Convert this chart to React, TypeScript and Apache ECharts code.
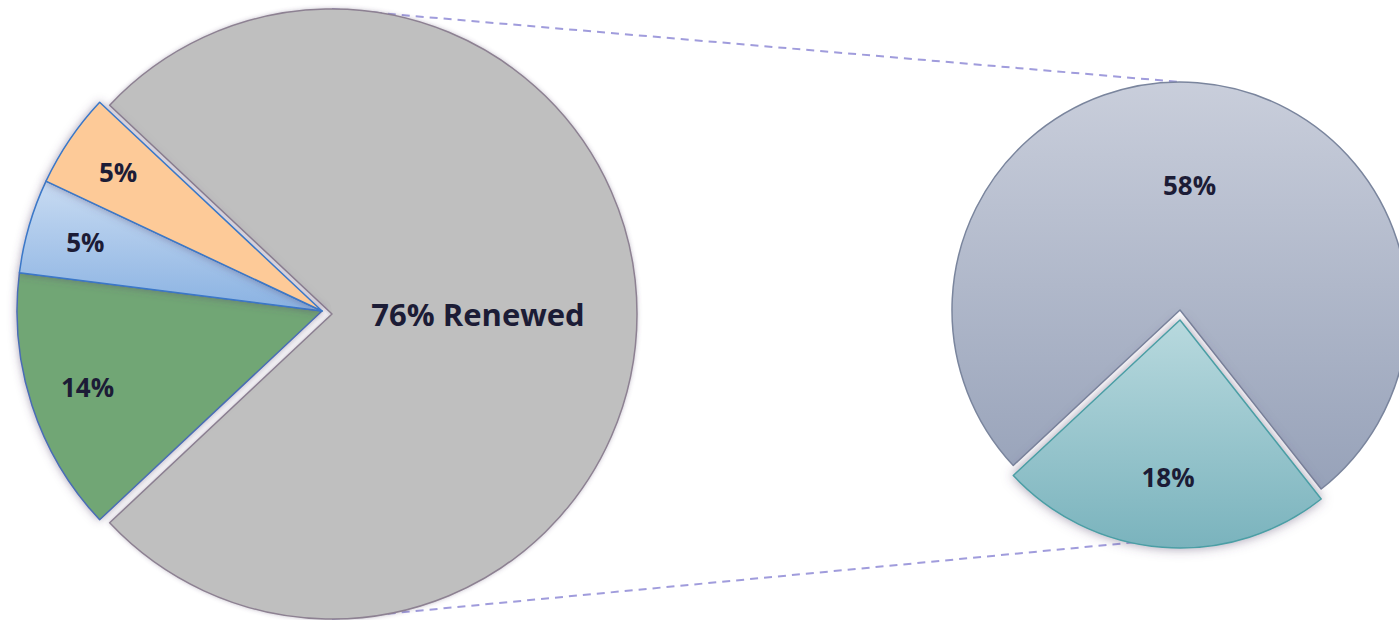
import React, { useEffect, useRef } from "react";
import * as echarts from "echarts";

// ---- data ----
const leftNames = ["Renewed", "Not renewed A", "Not renewed B", "Not renewed C"];
const leftValues = [76, 14, 5, 5];
const rightNames = ["Renewed A", "Renewed B"];
const rightValues = [58, 18];

const FONT = "'Open Sans', 'Noto Sans', sans-serif";
const LABEL_COLOR = "#1c1c36";

const vGrad = (top: string, bottom: string) =>
  new echarts.graphic.LinearGradient(0, 0, 0, 1, [
    { offset: 0, color: top },
    { offset: 1, color: bottom },
  ]);

const HIDDEN = { color: "rgba(0,0,0,0)", borderWidth: 0, shadowBlur: 0 };

export default function App() {
  const ref = useRef<HTMLDivElement>(null);

  useEffect(() => {
    document.body.style.margin = "0";
    if (!ref.current) return;
    const chart = echarts.init(ref.current, undefined, { renderer: "svg" });

    const smallSum = leftValues.slice(1).reduce((a, b) => a + b, 0);
    const leftStart = 180 - (smallSum / 100) * 360 / 2; // small slices centred on the left
    const rightStart = 223;

    const leftCenterBig = [332, 314];
    const leftCenterSmall = [322, 311];
    const leftR = 305;
    const rightCenterBig = [1180, 310];
    const rightCenterSmall = [1180, 320];
    const rightR = 228;

    const smallStyles = [
      { color: "#71a674", borderColor: "#4a6db5", borderWidth: 1.5 },
      { color: vGrad("#c8dbf2", "#8ab2e2"), borderColor: "#3a78c8", borderWidth: 1.5 },
      { color: "#fdca98", borderColor: "#3a78c8", borderWidth: 1.5 },
    ];

    const base = {
      type: "pie",
      clockwise: true,
      avoidLabelOverlap: false,
      labelLine: { show: false },
      emphasis: { disabled: true },
      silent: true,
    };

    const noLabel = { show: false };
    const pctLabel = {
      show: true,
      position: "inside",
      fontFamily: FONT,
      fontWeight: "bold",
      fontSize: 26,
      color: LABEL_COLOR,
      formatter: "{c}%",
    };

    const option: any = {
      animation: false,
      backgroundColor: "#ffffff",
      graphic: [
        {
          type: "line",
          z: 0,
          shape: { x1: leftCenterBig[0], y1: leftCenterBig[1] - leftR, x2: rightCenterBig[0], y2: rightCenterBig[1] - rightR },
          style: { stroke: "#a09cdc", lineWidth: 2, lineDash: [8, 6] },
        },
        {
          type: "line",
          z: 0,
          shape: { x1: leftCenterBig[0], y1: leftCenterBig[1] + leftR, x2: rightCenterBig[0], y2: rightCenterBig[1] + rightR },
          style: { stroke: "#a09cdc", lineWidth: 2, lineDash: [8, 6] },
        },
      ],
      series: [
        // left: big grey slice
        {
          ...base,
          z: 3,
          center: leftCenterBig,
          radius: leftR,
          startAngle: leftStart,
          label: noLabel,
          data: [
            {
              name: leftNames[0],
              value: leftValues[0],
              itemStyle: {
                color: "#bfbfbf",
                borderColor: "#8d8192",
                borderWidth: 1.5,
                shadowBlur: 4,
                shadowColor: "rgba(90,70,110,0.35)",
              },
            },
            { name: "rest", value: smallSum, itemStyle: HIDDEN },
          ],
        },
        // left: small exploded slices
        {
          ...base,
          z: 4,
          center: leftCenterSmall,
          radius: leftR,
          startAngle: leftStart,
          label: noLabel,
          data: [
            { name: "gap", value: leftValues[0], itemStyle: HIDDEN },
            ...leftValues.slice(1).map((v, i) => ({
              name: leftNames[i + 1],
              value: v,
              itemStyle: { ...smallStyles[i], shadowBlur: 9, shadowColor: "rgba(90,70,110,0.5)" },
            })),
          ],
        },
        // left labels: grey
        {
          ...base,
          z: 6,
          center: leftCenterBig,
          radius: [0, 286],
          startAngle: leftStart,
          itemStyle: HIDDEN,
          label: {
            show: true,
            position: "inside",
            fontFamily: FONT,
            fontWeight: "bold",
            fontSize: 31,
            color: LABEL_COLOR,
            formatter: (p: any) => (p.dataIndex === 0 ? `${p.value}% ${p.name}` : ""),
          },
          data: [
            { name: leftNames[0], value: leftValues[0] },
            { name: "rest", value: smallSum, label: { show: false } },
          ],
        },
        // left labels: small slices
        {
          ...base,
          z: 6,
          center: leftCenterSmall,
          radius: [182, leftR],
          startAngle: leftStart,
          itemStyle: HIDDEN,
          label: pctLabel,
          data: [
            { name: "gap", value: leftValues[0], label: { show: false } },
            ...leftValues.slice(1).map((v, i) => ({ name: leftNames[i + 1], value: v })),
          ],
        },
        // right: big slice
        {
          ...base,
          z: 3,
          center: rightCenterBig,
          radius: rightR,
          startAngle: rightStart,
          label: noLabel,
          data: [
            {
              name: rightNames[0],
              value: rightValues[0],
              itemStyle: {
                color: vGrad("#c9cedb", "#97a2b9"),
                borderColor: "#7a859d",
                borderWidth: 1.5,
              },
            },
            { name: "rest", value: rightValues[1], itemStyle: HIDDEN },
          ],
        },
        // right: exploded slice
        {
          ...base,
          z: 4,
          center: rightCenterSmall,
          radius: rightR,
          startAngle: rightStart,
          label: noLabel,
          data: [
            { name: "gap", value: rightValues[0], itemStyle: HIDDEN },
            {
              name: rightNames[1],
              value: rightValues[1],
              itemStyle: {
                color: vGrad("#b8d9de", "#7ab3bd"),
                borderColor: "#4b9ea5",
                borderWidth: 1.5,
                shadowBlur: 12,
                shadowColor: "rgba(90,70,110,0.55)",
              },
            },
          ],
        },
        // right labels: big
        {
          ...base,
          z: 6,
          center: rightCenterBig,
          radius: [16, rightR],
          startAngle: rightStart,
          itemStyle: HIDDEN,
          label: pctLabel,
          data: [
            { name: rightNames[0], value: rightValues[0] },
            { name: "rest", value: rightValues[1], label: { show: false } },
          ],
        },
        // right labels: exploded
        {
          ...base,
          z: 6,
          center: rightCenterSmall,
          radius: [80, rightR],
          startAngle: rightStart,
          itemStyle: HIDDEN,
          label: pctLabel,
          data: [
            { name: "gap", value: rightValues[0], label: { show: false } },
            { name: rightNames[1], value: rightValues[1] },
          ],
        },
      ],
    };

    chart.setOption(option);
    return () => chart.dispose();
  }, []);

  return <div ref={ref} style={{ width: 1399, height: 620 }} />;
}
